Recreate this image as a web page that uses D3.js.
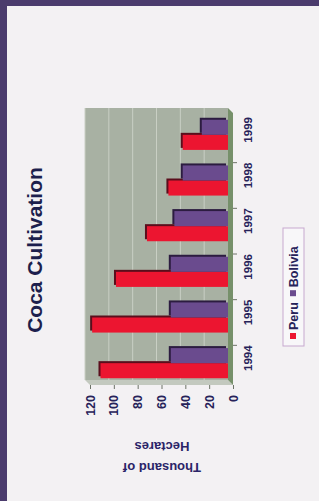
<!DOCTYPE html>
<html>
<head>
<meta charset="utf-8">
<script src="https://cdn.jsdelivr.net/npm/d3@7"></script>
<style>
  body { margin: 0; background: #f3f1f3; }
  svg { display: block; font-family: "Liberation Sans", Arial, sans-serif; }
</style>
</head>
<body>
<script>
// chart data (thousand hectares)
const years = ["1994", "1995", "1996", "1997", "1998", "1999"];
const series = ["Peru", "Bolivia"];
const peru = [107, 114, 94, 68, 50, 38];
const bolivia = [48, 48, 48, 45, 38, 22];
const valueTicks = [0, 20, 40, 60, 80, 100, 120];
const colors = ["#ec1530", "#6a4b8e"];
const shades = ["#5a0e1c", "#2c1c40"];

const W = 319, H = 501;
const svg = d3.select("body").append("svg")
    .attr("width", W)
    .attr("height", H);

// slide background + purple frame on top and left
svg.append("rect").attr("width", W).attr("height", H).attr("fill", "#f3f1f3");
svg.append("rect").attr("width", W).attr("height", 6).attr("fill", "#4b3c6d");
svg.append("rect").attr("width", 7).attr("height", H).attr("fill", "#4b3c6d");

// the whole chart is drawn as a column chart, then turned a quarter to the left
// inside g: u runs along the categories, v runs down the page of the upright chart
const g = svg.append("g")
    .attr("transform", "translate(0," + H + ") rotate(-90)");

const depth = 5;
const x = d3.scaleBand(years, [115, 389]).paddingInner(0.34).paddingOuter(0.17);
const xFront = d3.scaleBand(years, [115 - depth, 389 - depth]);
const xLabel = d3.scaleBand(years, [120, 394]);
const xSub = d3.scaleBand(series, [0, x.bandwidth()]);
const y = d3.scaleLinear([0, 120], [228, 85]);
const yFront = d3.scaleLinear([0, 120], [228 + depth, 85 + depth]);

const wallL = 121, wallR = 393;

// back wall
g.append("rect")
    .attr("x", wallL).attr("y", y(120))
    .attr("width", wallR - wallL).attr("height", y(0) - y(120))
    .attr("fill", "#a8b1a3");
// gridlines on the wall
g.selectAll(".grid")
    .data(valueTicks.slice(1))
    .enter().append("line")
    .attr("x1", wallL).attr("x2", wallR)
    .attr("y1", d => y(d)).attr("y2", d => y(d))
    .style("stroke", "#c9cfc4")
    .style("stroke-width", 1);
// side wall
g.append("path")
    .attr("d", "M" + wallL + "," + y(120) + " L" + wallL + "," + y(0)
        + " L" + (wallL - depth) + "," + (y(0) + depth)
        + " L" + (wallL - depth) + "," + (y(120) + depth) + "Z")
    .attr("fill", "#c3c9bf");
// floor
g.append("path")
    .attr("d", "M" + wallL + "," + y(0) + " L" + wallR + "," + y(0)
        + " L" + (wallR - depth) + "," + (y(0) + depth)
        + " L" + (wallL - depth) + "," + (y(0) + depth) + "Z")
    .attr("fill", "#76906a");

// bars, with a dark side for the 3d look
const rows = years.map((yr, i) => ({ year: yr, values: [peru[i], bolivia[i]] }));
const group = g.selectAll(".year")
    .data(rows)
    .enter().append("g")
    .attr("class", "year")
    .attr("transform", d => "translate(" + x(d.year) + ",0)");
group.selectAll(".bar")
    .data(d => d.values.map((v, k) => ({ name: series[k], value: v, k: k })))
    .enter().append("g")
    .each(function (d) {
        const s = d3.select(this);
        s.append("rect")
            .attr("x", xSub(d.name) + 2).attr("y", y(d.value) - 2)
            .attr("width", xSub.bandwidth()).attr("height", y(0) - y(d.value))
            .attr("fill", shades[d.k]);
        s.append("rect")
            .attr("x", xSub(d.name)).attr("y", y(d.value))
            .attr("width", xSub.bandwidth()).attr("height", y(0) - y(d.value))
            .attr("fill", colors[d.k]);
    });

// value axis on the front edge of the side wall
const yAxis = g.append("g")
    .attr("transform", "translate(" + (wallL - depth) + ",0)")
    .call(d3.axisLeft(yFront).tickValues(valueTicks).tickSize(4).tickPadding(6));
yAxis.select(".domain").remove();
yAxis.selectAll("line").style("stroke", "#6d7368");
yAxis.selectAll("text")
    .style("font-size", "12.5px")
    .style("font-weight", "bold")
    .style("fill", "#262259");

// category axis below the floor
const xAxis = g.append("g")
    .attr("transform", "translate(0," + (y(0) + depth) + ")")
    .call(d3.axisBottom(xLabel).tickSize(0).tickPadding(11));
xAxis.select(".domain").remove();
xAxis.selectAll("text")
    .style("font-size", "11.5px")
    .style("font-weight", "bold")
    .style("fill", "#262259");
g.selectAll(".xtick")
    .data(years.slice(1))
    .enter().append("line")
    .attr("x1", d => xFront(d))
    .attr("x2", d => xFront(d))
    .attr("y1", y(0) + depth).attr("y2", y(0) + depth + 4)
    .style("stroke", "#6d7368");

// title
g.append("text")
    .attr("x", 251).attr("y", 42)
    .attr("text-anchor", "middle")
    .style("font-size", "21px")
    .style("font-weight", "bold")
    .style("fill", "#1d1f4d")
    .text("Coca Cultivation");

// value axis title, two lines
const axisTitle = ["Thousand of", "Hectares"];
g.selectAll(".ytitle")
    .data(axisTitle)
    .enter().append("text")
    .attr("transform", (d, i) => "translate(" + (33 + i * 21) + ",162) rotate(-90)")
    .attr("text-anchor", "middle")
    .attr("dy", "0.35em")
    .style("font-size", "13px")
    .style("font-weight", "bold")
    .style("fill", "#2a2468")
    .text(d => d);

// legend
const legend = g.append("g").attr("transform", "translate(155,283)");
legend.append("rect")
    .attr("width", 118).attr("height", 21)
    .attr("fill", "#f8f7f9")
    .style("stroke", "#c7a9cf");
let lx = 7;
series.forEach((name, k) => {
    legend.append("rect")
        .attr("x", lx).attr("y", 7).attr("width", 6).attr("height", 6)
        .attr("fill", colors[k]);
    const t = legend.append("text")
        .attr("x", lx + 9).attr("y", 10.5).attr("dy", "0.35em")
        .style("font-size", "12.5px")
        .style("font-weight", "bold")
        .style("fill", "#262259")
        .text(name);
    lx += 9 + t.node().getComputedTextLength() + 6;
});
</script>
</body>
</html>
